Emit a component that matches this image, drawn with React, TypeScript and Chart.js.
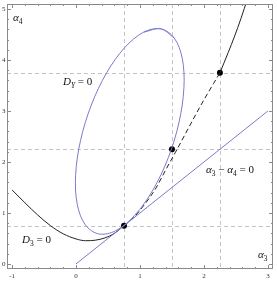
import React, { useEffect, useRef } from "react";
import { Chart, registerables } from "chart.js";

Chart.register(...registerables);

// ---- data ----
const X_MIN = -1.08;
const X_MAX = 3.08;
const Y_MIN = -0.1;
const Y_MAX = 5.1;

const xTicks = [-1, 0, 1, 2, 3];
const yTicks = [0, 1, 2, 3, 4, 5];
const gridX = [0.75, 1.5, 2.25];
const gridY = [0.75, 2.25, 3.75];

// D3 = 0 curve (black), left solid part
const d3LeftX = [-1, -0.8, -0.6, -0.4, -0.2, 0, 0.15, 0.3, 0.45, 0.6, 0.75];
const d3LeftY = [1.45, 1.2, 0.96, 0.75, 0.59, 0.49, 0.455, 0.465, 0.51, 0.6, 0.75];
// dashed middle part
const d3MidX = [0.75, 0.9, 1.03, 1.15, 1.25, 1.4, 1.55, 1.7, 1.85, 2.0, 2.15, 2.25];
const d3MidY = [0.75, 0.91, 1.1, 1.3, 1.49, 1.84, 2.18, 2.53, 2.88, 3.22, 3.54, 3.75];
// upper solid part
const d3UpX = [2.25, 2.38, 2.48, 2.58, 2.68];
const d3UpY = [3.75, 4.15, 4.47, 4.82, 5.2];

// D_Y = 0 ellipse (blue), closed loop (first/last points overlap to close it)
const ellX = [1.058, 1.326, 1.535, 1.661, 1.687, 1.611, 1.443, 1.201, 0.916, 0.622, 0.354, 0.145, 0.019, -0.007, 0.069, 0.238, 0.479, 0.764, 1.058, 1.326, 1.535];
const ellY = [4.548, 4.612, 4.433, 4.033, 3.46, 2.783, 2.085, 1.448, 0.951, 0.652, 0.588, 0.767, 1.167, 1.74, 2.417, 3.115, 3.752, 4.249, 4.548, 4.612, 4.433];

// alpha3 - alpha4 = 0 line
const lineX = [0, 3];
const lineY = [0, 3];

// marked points
const ptsX = [0.75, 1.5, 2.25];
const ptsY = [0.75, 2.25, 3.75];

const BLUE = "rgb(122,122,204)";
const BLACK = "#222";
const FONT = '"Liberation Serif", "DejaVu Serif", serif';

type Part = { t: string; it?: boolean; sub?: boolean };

const labels: { parts: Part[]; x: number; y: number }[] = [
  { parts: [{ t: "α", it: true }, { t: "4", sub: true }], x: 13, y: 21 },
  { parts: [{ t: "D", it: true }, { t: "Y", it: true, sub: true }, { t: " = 0" }], x: 63, y: 85 },
  { parts: [{ t: "D", it: true }, { t: "3", sub: true }, { t: " = 0" }], x: 22, y: 243 },
  {
    parts: [
      { t: "α", it: true },
      { t: "3", sub: true },
      { t: " − " },
      { t: "α", it: true },
      { t: "4", sub: true },
      { t: " = 0" },
    ],
    x: 206,
    y: 173,
  },
  { parts: [{ t: "α", it: true }, { t: "3", sub: true }], x: 258, y: 258 },
];

const zip = (xs: number[], ys: number[]) => xs.map((x, i) => ({ x, y: ys[i] }));

function drawRich(ctx: CanvasRenderingContext2D, parts: Part[], x: number, y: number, size: number) {
  let cx = x;
  ctx.textBaseline = "alphabetic";
  ctx.textAlign = "left";
  for (const p of parts) {
    const s = p.sub ? size * 0.68 : size;
    ctx.font = `${p.it ? "italic " : ""}${s}px ${FONT}`;
    ctx.fillText(p.t, cx, p.sub ? y + 2.5 : y);
    cx += ctx.measureText(p.t).width;
  }
}

const framePlugin = {
  id: "framePlugin",
  beforeDatasetsDraw(chart: any) {
    const { ctx, chartArea: a, scales } = chart;
    const xs = scales.x;
    const ys = scales.y;
    ctx.save();
    ctx.strokeStyle = "#c4c4c4";
    ctx.lineWidth = 1;
    ctx.setLineDash([4, 3]);
    for (const v of gridX) {
      const px = Math.round(xs.getPixelForValue(v)) + 0.5;
      ctx.beginPath();
      ctx.moveTo(px, a.top);
      ctx.lineTo(px, a.bottom);
      ctx.stroke();
    }
    for (const v of gridY) {
      const py = Math.round(ys.getPixelForValue(v)) + 0.5;
      ctx.beginPath();
      ctx.moveTo(a.left, py);
      ctx.lineTo(a.right, py);
      ctx.stroke();
    }
    ctx.restore();
  },
  afterDraw(chart: any) {
    const { ctx, chartArea: a, scales } = chart;
    const xs = scales.x;
    const ys = scales.y;
    ctx.save();
    // frame
    ctx.strokeStyle = "#8a8a8a";
    ctx.lineWidth = 1;
    ctx.setLineDash([]);
    ctx.strokeRect(Math.round(a.left) + 0.5, Math.round(a.top) + 0.5, Math.round(a.right - a.left) - 1, Math.round(a.bottom - a.top) - 1);
    // ticks
    ctx.beginPath();
    for (let k = -5; k <= 15; k++) {
      const v = k * 0.2;
      if (v < X_MIN || v > X_MAX) continue;
      const major = Math.abs(v - Math.round(v)) < 1e-6;
      const len = major ? 4 : 2;
      const px = Math.round(xs.getPixelForValue(v)) + 0.5;
      ctx.moveTo(px, a.bottom);
      ctx.lineTo(px, a.bottom - len);
      ctx.moveTo(px, a.top);
      ctx.lineTo(px, a.top + len);
    }
    for (let k = 0; k <= 25; k++) {
      const v = k * 0.2;
      if (v < Y_MIN || v > Y_MAX) continue;
      const major = Math.abs(v - Math.round(v)) < 1e-6;
      const len = major ? 4 : 2;
      const py = Math.round(ys.getPixelForValue(v)) + 0.5;
      ctx.moveTo(a.left, py);
      ctx.lineTo(a.left + len, py);
      ctx.moveTo(a.right, py);
      ctx.lineTo(a.right - len, py);
    }
    ctx.stroke();
    // tick labels
    ctx.fillStyle = "#333";
    ctx.font = `7px ${FONT}`;
    ctx.textAlign = "center";
    ctx.textBaseline = "middle";
    for (const v of xTicks) {
      ctx.fillText(String(v), xs.getPixelForValue(v), a.bottom + 7);
    }
    ctx.textAlign = "right";
    for (const v of yTicks) {
      ctx.fillText(String(v), a.left - 1.5, ys.getPixelForValue(v));
    }
    // annotations
    ctx.fillStyle = "#111";
    for (const l of labels) drawRich(ctx, l.parts, l.x, l.y, 11);
    ctx.restore();
  },
};

export default function App() {
  const ref = useRef<HTMLCanvasElement | null>(null);
  useEffect(() => {
    document.body.style.margin = "0";
    const canvas = ref.current!;
    const lineDs = (data: any[], color: string, extra: any = {}) => ({
      data,
      showLine: true,
      borderColor: color,
      backgroundColor: color,
      borderWidth: 1,
      pointRadius: 0,
      fill: false,
      ...extra,
    });
    const chart = new Chart(canvas, {
      type: "scatter",
      data: {
        datasets: [
          lineDs(zip(lineX, lineY), BLUE),
          lineDs(zip(ellX, ellY), BLUE, { tension: 0.34 }),
          lineDs(zip(d3LeftX, d3LeftY), BLACK, { cubicInterpolationMode: "monotone" }),
          lineDs(zip(d3MidX, d3MidY), BLACK, { cubicInterpolationMode: "monotone", borderDash: [5, 3] }),
          lineDs(zip(d3UpX, d3UpY), BLACK, { cubicInterpolationMode: "monotone" }),
          {
            data: zip(ptsX, ptsY),
            showLine: false,
            pointRadius: 3,
            pointBackgroundColor: "#000",
            pointBorderColor: "#000",
            pointBorderWidth: 0,
          },
        ],
      },
      options: {
        responsive: false,
        animation: false,
        layout: { padding: { left: 7, top: 2, right: 3, bottom: 13 } },
        plugins: { legend: { display: false }, tooltip: { enabled: false } },
        events: [],
        scales: {
          x: { type: "linear", min: X_MIN, max: X_MAX, display: false },
          y: { type: "linear", min: Y_MIN, max: Y_MAX, display: false },
        },
      },
      plugins: [framePlugin],
    } as any);
    return () => chart.destroy();
  }, []);
  return (
    <div style={{ position: "fixed", left: 0, top: 0, width: 277, height: 282, background: "#fff" }}>
      <canvas ref={ref} width={277} height={282} style={{ display: "block", width: 277, height: 282 }} />
    </div>
  );
}
